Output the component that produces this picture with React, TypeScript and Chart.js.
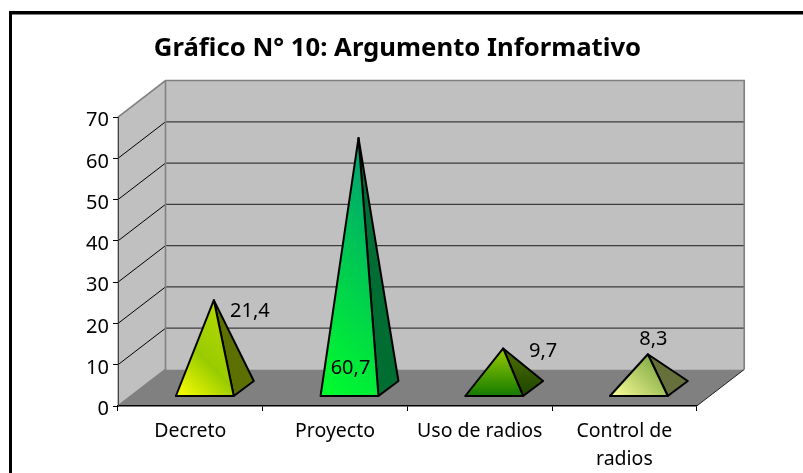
import React, { useEffect, useRef } from "react";
import { Chart, registerables } from "chart.js";

Chart.register(...registerables);

const titleText = "Gráfico N° 10: Argumento Informativo";
const categories: (string | string[])[] = ["Decreto", "Proyecto", "Uso de radios", ["Control de", "radios"]];
const values = [21.4, 60.7, 9.7, 8.3];
const yTicks = [0, 10, 20, 30, 40, 50, 60, 70];

const FONT = "'Noto Sans', Tahoma, sans-serif";

const DEPTH_X = 47.5;
const DEPTH_Y = 36.5;

type Style = { front: [number, string][]; dir: "diag" | "up"; sideTop: string; sideBottom: string; label: [number, number] };
const styles: Style[] = [
  { front: [[0, "#ffff00"], [0.42, "#99cc00"], [0.9, "#b4d800"]], dir: "diag", sideTop: "#5c7000", sideBottom: "#5c7000", label: [36, 11] },
  { front: [[0, "#00ff2a"], [1, "#009977"]], dir: "diag", sideTop: "#006e38", sideBottom: "#006e30", label: [-8, 230] },
  { front: [[0, "#147a00"], [1, "#99cc00"]], dir: "up", sideTop: "#4f7000", sideBottom: "#1c4400", label: [40, 3] },
  { front: [[0, "#ffff99"], [1, "#669933"]], dir: "diag", sideTop: "#667033", sideBottom: "#667040", label: [5.5, -15] },
];

const frame3d = {
  id: "frame3d",
  afterLayout(chart: any) {
    if (chart.titleBlock) {
      chart.titleBlock.left = 0;
      chart.titleBlock.right = 795;
      chart.titleBlock.width = 795;
    }
  },
  beforeDraw(chart: any) {
    const { ctx, chartArea: a, scales } = chart;
    const y = scales.y;
    ctx.save();
    ctx.fillStyle = "#ffffff";
    ctx.fillRect(0, 0, chart.width, chart.height);
    // outer frame
    ctx.fillStyle = "#000000";
    ctx.fillRect(9, 11, 3, chart.height - 11);
    ctx.fillRect(9, 11, chart.width - 9, 3.5);
    const L = a.left, R = a.right, T = a.top, B = a.bottom;
    const dx = DEPTH_X, dy = DEPTH_Y;
    // back wall
    ctx.fillStyle = "#c0c0c0";
    ctx.fillRect(L + dx, T - dy, R - L, B - T);
    // side wall
    ctx.beginPath();
    ctx.moveTo(L, B); ctx.lineTo(L, T); ctx.lineTo(L + dx, T - dy); ctx.lineTo(L + dx, B - dy); ctx.closePath();
    ctx.fill();
    // floor
    ctx.fillStyle = "#808080";
    ctx.beginPath();
    ctx.moveTo(L, B); ctx.lineTo(R, B); ctx.lineTo(R + dx, B - dy); ctx.lineTo(L + dx, B - dy); ctx.closePath();
    ctx.fill();
    // grid lines
    for (const v of yTicks) {
      if (v === 0 || v === 70) continue;
      const p = y.getPixelForValue(v);
      ctx.strokeStyle = "#000000";
      ctx.lineWidth = 1;
      ctx.beginPath(); ctx.moveTo(L, p); ctx.lineTo(L + dx, p - dy); ctx.stroke();
      ctx.strokeStyle = "#3c3c3c";
      ctx.lineWidth = 1.2;
      ctx.beginPath(); ctx.moveTo(L + dx, p - dy); ctx.lineTo(R + dx, p - dy); ctx.stroke();
    }
    // wall edges
    ctx.strokeStyle = "#808080";
    ctx.lineWidth = 1.6;
    ctx.beginPath();
    ctx.moveTo(L, T); ctx.lineTo(L + dx, T - dy); ctx.lineTo(R + dx, T - dy); ctx.lineTo(R + dx, B - dy);
    ctx.moveTo(L + dx, T - dy); ctx.lineTo(L + dx, B - dy); ctx.lineTo(L, B);
    ctx.stroke();
    ctx.lineWidth = 1;
    ctx.beginPath(); ctx.moveTo(L, T); ctx.lineTo(L, B); ctx.stroke();
    // floor right edge
    ctx.strokeStyle = "#202020";
    ctx.lineWidth = 1;
    ctx.beginPath(); ctx.moveTo(R, B); ctx.lineTo(R + dx, B - dy); ctx.stroke();
    ctx.restore();
  },
  afterDatasetsDraw(chart: any) {
    const { ctx, scales } = chart;
    const x = scales.x, y = scales.y;
    const halfW = (x.getPixelForValue(1) - x.getPixelForValue(0)) * 0.2;
    const y0 = y.getPixelForValue(0);
    const fx = 14.5, fy = 10, sx = 20, sy = 15;
    ctx.save();
    values.forEach((v, i) => {
      const st = styles[i];
      const cx = x.getPixelForValue(i) + fx;
      const l = cx - halfW, r = cx + halfW, by = y0 - fy;
      const ax = cx + sx / 2 - 1, ay = y.getPixelForValue(v) - fy - sy / 2;
      const D = (r - l + by - ay) / 2;
      const g = st.dir === "up" ? ctx.createLinearGradient(0, by, 0, ay) : ctx.createLinearGradient(l, by, l + D, by - D);
      st.front.forEach(([o, c]) => g.addColorStop(o, c));
      const side = ctx.createLinearGradient(0, ay, 0, by);
      side.addColorStop(0, st.sideTop);
      side.addColorStop(1, st.sideBottom);
      ctx.lineJoin = "round";
      ctx.lineWidth = 2;
      ctx.strokeStyle = "#000000";
      ctx.fillStyle = side;
      ctx.beginPath();
      ctx.moveTo(r, by); ctx.lineTo(r + sx, by - sy); ctx.lineTo(ax, ay); ctx.closePath();
      ctx.fill(); ctx.stroke();
      ctx.fillStyle = g;
      ctx.beginPath();
      ctx.moveTo(l, by); ctx.lineTo(r, by); ctx.lineTo(ax, ay); ctx.closePath();
      ctx.fill(); ctx.stroke();
      ctx.fillStyle = "#000000";
      ctx.font = `20px ${FONT}`;
      ctx.textAlign = "center";
      ctx.textBaseline = "middle";
      ctx.fillText(v.toFixed(1).replace(".", ","), ax + st.label[0], ay + st.label[1]);
    });
    ctx.restore();
  },
};

export default function App() {
  const ref = useRef<HTMLCanvasElement | null>(null);
  useEffect(() => {
    const chart = new Chart(ref.current!, {
      type: "bar",
      data: {
        labels: categories as any,
        datasets: [{ label: "Argumento Informativo", data: values, backgroundColor: "rgba(0,0,0,0)", borderWidth: 0 }],
      },
      plugins: [frame3d as any],
      options: {
        responsive: false,
        animation: false,
        layout: { padding: { left: 78, right: 106.3, top: 0, bottom: 0 } },
        plugins: {
          legend: { display: false },
          tooltip: { enabled: false },
          title: {
            display: true,
            text: titleText,
            color: "#000000",
            font: { family: FONT, size: 25.7, weight: "bold" },
            padding: { top: 33, bottom: 53.2 },
          },
        },
        scales: {
          x: {
            offset: true,
            afterFit: (s: any) => { s.height = 67; },
            border: { color: "#000000", width: 1.5 },
            grid: { offset: true, drawOnChartArea: false, drawTicks: true, tickLength: 5, color: "#000000" },
            ticks: { color: "#000000", padding: 7, autoSkip: false, maxRotation: 0, minRotation: 0, font: { family: FONT, size: 19.5, lineHeight: 1.4 } },
          },
          y: {
            min: 0,
            max: 70,
            afterFit: (s: any) => { s.width = 40; },
            afterBuildTicks: (s: any) => { s.ticks = yTicks.map((value) => ({ value })); },
            border: { color: "#404040", width: 1 },
            grid: { drawOnChartArea: false, drawTicks: true, tickLength: 5, color: "#000000" },
            ticks: {
              color: "#000000",
              padding: 4,
              callback: (v: any) => ["", String(v)],
              font: { family: FONT, size: 20, lineHeight: "7px" },
            },
          },
        },
      } as any,
    });
    return () => chart.destroy();
  }, []);
  return <canvas ref={ref} width={803} height={473} style={{ position: "fixed", left: 0, top: 0, display: "block" }} />;
}
